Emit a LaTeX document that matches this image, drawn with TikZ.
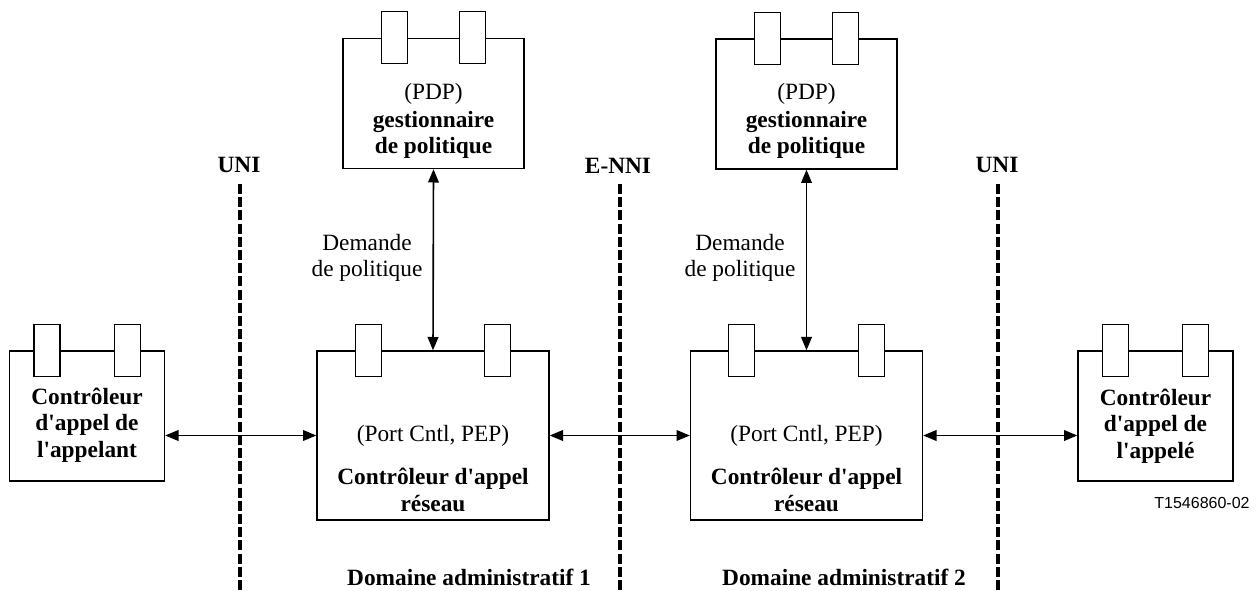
\documentclass[tikz,border=0pt]{standalone}
\usepackage{fontspec}
\setmainfont{Liberation Serif}
\newfontfamily\labelsans{Liberation Sans}
\usetikzlibrary{arrows.meta,calc}

% straight apostrophe
\newcommand{\ap}{\textquotesingle}

% two tabs sitting astride the top edge of a box node
\newcommand{\boxtabs}[2]{%
  \draw[tabrect] ($(#1.north west)+(#2-13,-26)$) rectangle ($(#1.north west)+(#2+13,26)$);
  \draw[tabrect] ($(#1.north east)+(-#2-13,-26)$) rectangle ($(#1.north east)+(-#2+13,26)$);
}

\begin{document}
\begin{tikzpicture}[x=0.75pt,y=-0.75pt,
  txt/.style={font=\fontsize{17.5}{20}\selectfont, align=center, inner sep=0pt},
  btxt/.style={font=\fontsize{17.5}{20}\selectfont\bfseries, align=center, inner sep=0pt},
  box/.style={draw, line width=1pt, inner sep=0pt},
  endbox/.style={box, minimum width=116.25pt, minimum height=97.5pt},
  netbox/.style={box, minimum width=174pt, minimum height=126.75pt},
  pdpbox/.style={box, minimum width=135.75pt, minimum height=97.5pt},
  tabrect/.style={draw, fill=white, line width=1pt},
  link/.style={line width=1.2pt, {Triangle[length=10pt,width=8pt]}-{Triangle[length=10pt,width=8pt]}},
  boundary/.style={line width=2.6pt, dash pattern=on 7.5pt off 2.4pt},
]
\useasboundingbox[fill=white] (0,0) rectangle (1259,591);

% boxes
\node[endbox] (caller) at (87,416) {};
\node[endbox] (callee) at (1155.5,416) {};
\node[netbox] (net1) at (433,435.5) {};
\node[netbox] (net2) at (806.5,435.5) {};
\node[pdpbox] (pdp1) at (433.5,103.5) {};
\node[pdpbox] (pdp2) at (806.5,104) {};

\boxtabs{caller}{38}
\boxtabs{callee}{38}
\boxtabs{net1}{52}
\boxtabs{net2}{51.5}
\boxtabs{pdp1}{52}
\boxtabs{pdp2}{52}

% box texts
\node[btxt] (callerText) at (87,425) {Contrôleur\\d\ap appel de\\l\ap appelant};
\node[btxt] (calleeText) at (1155.5,426) {Contrôleur\\d\ap appel de\\l\ap appelé};
\node[txt] (net1Role) at (433,436) {(Port Cntl, PEP)};
\node[btxt] (net1Text) at (433,490) {Contrôleur d\ap appel\\réseau};
\node[txt] (net2Role) at (806.5,436) {(Port Cntl, PEP)};
\node[btxt] (net2Text) at (806.5,490) {Contrôleur d\ap appel\\réseau};
\node[txt] (pdp1Role) at (433.5,94) {(PDP)};
\node[btxt] (pdp1Text) at (433.5,135) {gestionnaire\\de politique};
\node[txt] (pdp2Role) at (806.5,94) {(PDP)};
\node[btxt] (pdp2Text) at (806.5,135) {gestionnaire\\de politique};

% interface boundaries
\node[btxt] (uniA) at (239,165) {UNI};
\node[btxt] (enni) at (618,166) {E-NNI};
\node[btxt] (uniB) at (997,165) {UNI};
\coordinate (uniAtop) at (240,184);
\coordinate (uniAbot) at (240,591);
\coordinate (ennitop) at (620,184);
\coordinate (ennibot) at (620,591);
\coordinate (uniBtop) at (998,184);
\coordinate (uniBbot) at (998,591);
\draw[boundary] (uniAtop) -- (uniAbot);
\draw[boundary] (ennitop) -- (ennibot);
\draw[boundary] (uniBtop) -- (uniBbot);

% signalling links
\draw[link] (caller.east |- net1.west) -- (net1.west);
\draw[link] (net1.east) -- (net2.west);
\draw[link] (net2.east) -- (callee.west |- net2.east);
\draw[link] (pdp1.south) -- (net1.north);
\draw[link] (pdp2.south) -- (net2.north);

\node[txt] (req1) at (367,258) {Demande\\de politique};
\node[txt] (req2) at (740,258) {Demande\\de politique};

% domains
\node[btxt] (dom1) at (469,577) {Domaine administratif 1};
\node[btxt] (dom2) at (844,577) {Domaine administratif 2};

\node[font=\labelsans\fontsize{12}{14}\selectfont, inner sep=0pt] (ref) at (1202,503) {T1546860-02};
\end{tikzpicture}
\end{document}
